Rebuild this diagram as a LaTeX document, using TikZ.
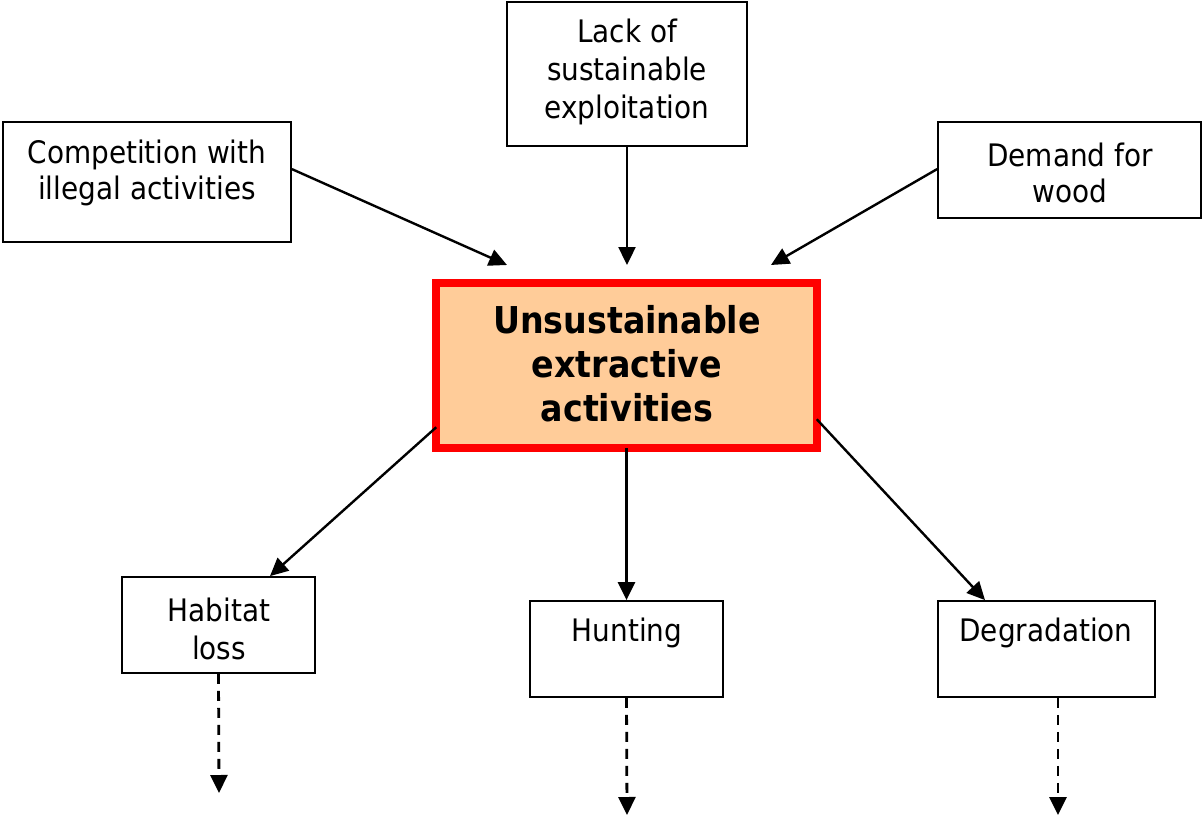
\documentclass[tikz,border=0pt]{standalone}
\usepackage{fontspec}
\setmainfont{DejaVu Sans Condensed}[BoldFont={DejaVu Sans Condensed Bold}]
\usetikzlibrary{arrows.meta,calc}
\definecolor{peach}{RGB}{255,204,153}
\tikzset{
  box/.style={draw=black, line width=1.8pt, fill=white, inner sep=0pt},
  lbl/.style={align=center, inner sep=0pt, font=\fontsize{31}{36}\selectfont},
  core/.style={draw=red, line width=7.5pt, fill=peach, inner sep=0pt},
  corelbl/.style={align=center, inner sep=0pt, font=\fontsize{37}{44}\selectfont\bfseries},
  arr/.style={line width=2.4pt, -{Triangle[length=18pt,width=17pt]}},
  darr/.style={line width=2.8pt, dash pattern=on 10pt off 7pt, -{Triangle[length=18pt,width=17pt]}}
}
\begin{document}
\begin{tikzpicture}[x=1pt,y=-1pt]
\useasboundingbox (0,0) rectangle (1202,816);
% boxes
\node[box, minimum width=288pt, minimum height=120pt] (comp) at (147,182) {};
\node[lbl] (compt) at (147,173) {Competition with\\illegal activities};
\node[box, minimum width=240pt, minimum height=144pt] (lack) at (627,74) {};
\node[lbl, font=\fontsize{31}{38}\selectfont] (lackt) at (627,72) {Lack of\\sustainable\\exploitation};
\node[box, minimum width=263pt, minimum height=96pt] (dem) at (1069.5,170) {};
\node[lbl] (demt) at (1070,173) {Demand for\\wood};
\node[core, minimum width=381pt, minimum height=165pt] (core) at (626.5,365.5) {};
\node[corelbl] (coret) at (627,364) {Unsustainable\\extractive\\activities};
\node[box, minimum width=193pt, minimum height=96pt] (hab) at (218.5,625) {};
\node[lbl, font=\fontsize{31}{38}\selectfont] (habt) at (219,629) {Habitat\\loss};
\node[box, minimum width=193pt, minimum height=96pt] (hunt) at (626.5,649) {};
\node[lbl] (huntt) at (627,633) {Hunting};
\node[box, minimum width=217pt, minimum height=96pt] (deg) at (1046.5,649) {};
\node[lbl] (degt) at (1046,633) {Degradation};
% free ends
\coordinate (e1) at (507,265);
\coordinate (e2) at (627,265);
\coordinate (e3) at (771,265);
\coordinate (d1) at (219,793);
\coordinate (d2) at (627,815);
\coordinate (d3) at (1058,815);
% arrows
\draw[arr] ($(comp.north east)+(0,48)$) -- (e1);
\draw[arr] (lack.south) -- (e2);
\draw[arr] ($(dem.north west)+(0,48)$) -- (e3);
\draw[arr] ($(core.north west)+(4,148)$) -- (hab.north east -| 270,0);
\draw[arr] ($(core.south)+(0,-4)$) -- (hunt.north);
\draw[arr] ($(core.north east)+(-4,140)$) -- (deg.north west -| 985,0);
\draw[darr] (hab.south) -- (d1);
\draw[darr] (hunt.south) -- (d2);
\draw[darr] (deg.south -| d3) -- (d3);
\end{tikzpicture}
\end{document}
